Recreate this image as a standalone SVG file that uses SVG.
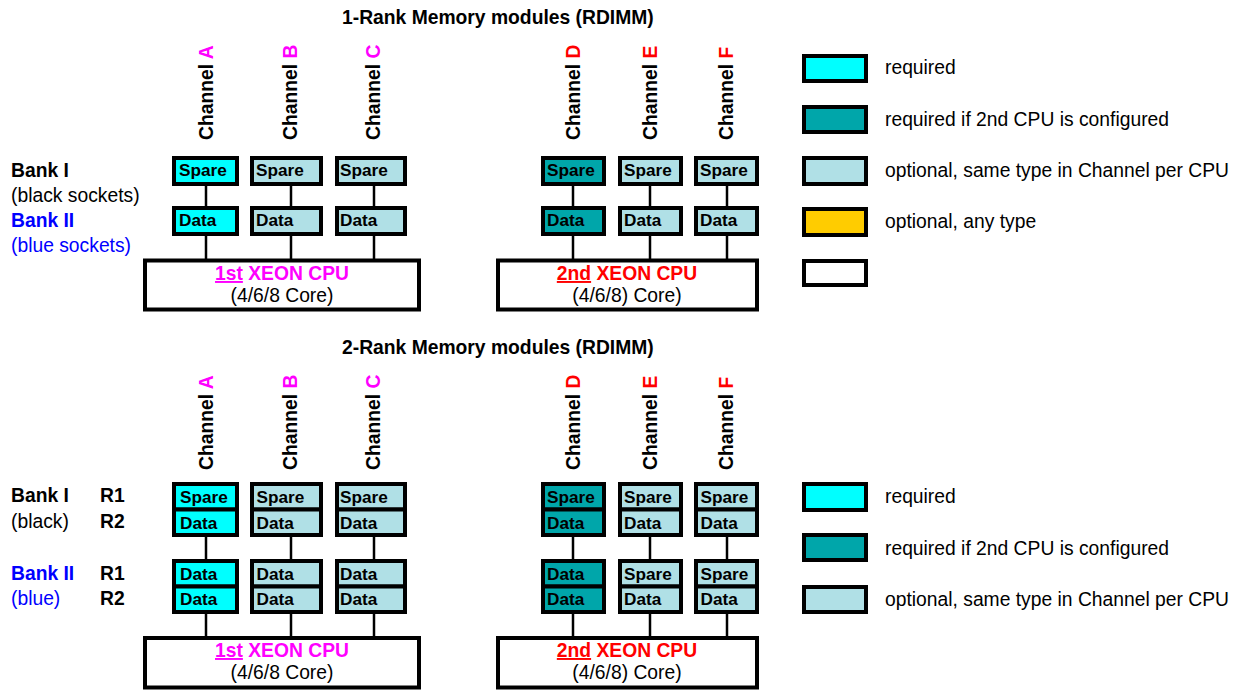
<svg xmlns="http://www.w3.org/2000/svg" width="1246" height="691" viewBox="0 0 1246 691">
<style>
text{font-family:"Liberation Sans",Arial,sans-serif;font-size:19.3px;fill:#000}
.b{font-weight:bold}
.ml{font-size:17.2px;font-weight:bold}
.m{stroke:#000;stroke-width:4}
.cy{fill:#00FFFF}.tl{fill:#00A6AA}.lb{fill:#B0E0E6}.or{fill:#FFCC00}.wh{fill:#FFFFFF}
.cn line{stroke:#000;stroke-width:2.5}
.mg{fill:#FF00FF}.rd{fill:#FF0000}.bl{fill:#0000FF}
.u{text-decoration:underline}
.mid{text-anchor:middle}
</style>
<rect width="1246" height="691" fill="#fff"/>

<g id="connectors" class="cn">
<line x1="206" y1="186" x2="206" y2="206"/><line x1="206" y1="236" x2="206" y2="259"/>
<line x1="291" y1="186" x2="291" y2="206"/><line x1="291" y1="236" x2="291" y2="259"/>
<line x1="374" y1="186" x2="374" y2="206"/><line x1="374" y1="236" x2="374" y2="259"/>
<line x1="573" y1="186" x2="573" y2="206"/><line x1="573" y1="236" x2="573" y2="259"/>
<line x1="650" y1="186" x2="650" y2="206"/><line x1="650" y1="236" x2="650" y2="259"/>
<line x1="727" y1="186" x2="727" y2="206"/><line x1="727" y1="236" x2="727" y2="259"/>
<line x1="206" y1="537" x2="206" y2="559"/><line x1="206" y1="614" x2="206" y2="636"/>
<line x1="291" y1="537" x2="291" y2="559"/><line x1="291" y1="614" x2="291" y2="636"/>
<line x1="374" y1="537" x2="374" y2="559"/><line x1="374" y1="614" x2="374" y2="636"/>
<line x1="573" y1="537" x2="573" y2="559"/><line x1="573" y1="614" x2="573" y2="636"/>
<line x1="650" y1="537" x2="650" y2="559"/><line x1="650" y1="614" x2="650" y2="636"/>
<line x1="727" y1="537" x2="727" y2="559"/><line x1="727" y1="614" x2="727" y2="636"/>
</g>

<!-- Titles -->
<g id="title1"><text class="b" x="342" y="24">1-Rank Memory modules (RDIMM)</text></g>
<g id="title2"><text class="b" x="342" y="354">2-Rank Memory modules (RDIMM)</text></g>

<!-- Channel labels top -->
<g id="chlabels1" class="b">
<text class="b" transform="translate(213,140) rotate(-90)">Channel <tspan class="mg">A</tspan></text>
<text class="b" transform="translate(296.5,140) rotate(-90)">Channel <tspan class="mg">B</tspan></text>
<text class="b" transform="translate(380,140) rotate(-90)">Channel <tspan class="mg">C</tspan></text>
<text class="b" transform="translate(580,140) rotate(-90)">Channel <tspan class="rd">D</tspan></text>
<text class="b" transform="translate(656.5,140) rotate(-90)">Channel <tspan class="rd">E</tspan></text>
<text class="b" transform="translate(733,140) rotate(-90)">Channel <tspan class="rd">F</tspan></text>
</g>
<g id="chlabels2">
<text class="b" transform="translate(213,470) rotate(-90)">Channel <tspan class="mg">A</tspan></text>
<text class="b" transform="translate(296.5,470) rotate(-90)">Channel <tspan class="mg">B</tspan></text>
<text class="b" transform="translate(380,470) rotate(-90)">Channel <tspan class="mg">C</tspan></text>
<text class="b" transform="translate(580,470) rotate(-90)">Channel <tspan class="rd">D</tspan></text>
<text class="b" transform="translate(656.5,470) rotate(-90)">Channel <tspan class="rd">E</tspan></text>
<text class="b" transform="translate(733,470) rotate(-90)">Channel <tspan class="rd">F</tspan></text>
</g>

<!-- Bank labels top -->
<g id="banks1">
<text class="b" x="11" y="177">Bank I</text>
<text x="11" y="202">(black sockets)</text>
<text class="b bl" x="11" y="227">Bank II</text>
<text class="bl" x="11" y="252">(blue sockets)</text>
</g>
<g id="banks2">
<text class="b" x="11" y="502">Bank I</text>
<text x="11" y="528">(black)</text>
<text class="b bl" x="11" y="580">Bank II</text>
<text class="bl" x="11" y="605">(blue)</text>
<text class="b" x="100" y="502">R1</text>
<text class="b" x="100" y="528">R2</text>
<text class="b" x="100" y="580">R1</text>
<text class="b" x="100" y="605">R2</text>
</g>

<!-- Top section modules -->
<g id="mod1A">
<rect class="m cy" x="174" y="158" width="63" height="26"/><text class="ml" x="179" y="176">Spare</text>
<rect class="m cy" x="174" y="208" width="63" height="26"/><text class="ml" x="179" y="226">Data</text>
</g>
<g id="mod1B">
<rect class="m lb" x="252" y="158" width="69" height="26"/><text class="ml" x="256" y="176">Spare</text>
<rect class="m lb" x="252" y="208" width="69" height="26"/><text class="ml" x="256" y="226">Data</text>
</g>
<g id="mod1C">
<rect class="m lb" x="337" y="158" width="68" height="26"/><text class="ml" x="340" y="176">Spare</text>
<rect class="m lb" x="337" y="208" width="68" height="26"/><text class="ml" x="340" y="226">Data</text>
</g>
<g id="mod1D">
<rect class="m tl" x="543" y="158" width="61" height="26"/><text class="ml" x="547" y="176">Spare</text>
<rect class="m tl" x="543" y="208" width="61" height="26"/><text class="ml" x="547" y="226">Data</text>
</g>
<g id="mod1E">
<rect class="m lb" x="620" y="158" width="61" height="26"/><text class="ml" x="624" y="176">Spare</text>
<rect class="m lb" x="620" y="208" width="61" height="26"/><text class="ml" x="624" y="226">Data</text>
</g>
<g id="mod1F">
<rect class="m lb" x="696" y="158" width="61" height="26"/><text class="ml" x="700" y="176">Spare</text>
<rect class="m lb" x="696" y="208" width="61" height="26"/><text class="ml" x="700" y="226">Data</text>
</g>

<!-- Top CPUs -->
<g id="cpu1a">
<rect class="m wh" x="145" y="260.5" width="274" height="49"/>
<text class="b mid mg" x="282" y="280"><tspan class="u">1st</tspan> XEON CPU</text>
<text class="mid" x="282" y="302">(4/6/8 Core)</text>
</g>
<g id="cpu2a">
<rect class="m wh" x="498" y="260.5" width="259" height="49"/>
<text class="b mid rd" x="627" y="280"><tspan class="u">2nd</tspan> XEON CPU</text>
<text class="mid" x="627" y="302">(4/6/8) Core)</text>
</g>

<!-- Bottom section modules -->
<g id="mod2A">
<rect class="m cy" x="174" y="484" width="63" height="25.5"/><text class="ml" x="180" y="503">Spare</text>
<rect class="m cy" x="174" y="509.5" width="63" height="25.5"/><text class="ml" x="180" y="529">Data</text>
<rect class="m cy" x="174" y="561" width="63" height="25.5"/><text class="ml" x="180" y="580">Data</text>
<rect class="m cy" x="174" y="586.5" width="63" height="25.5"/><text class="ml" x="180" y="605">Data</text>
</g>
<g id="mod2B">
<rect class="m lb" x="252" y="484" width="69" height="25.5"/><text class="ml" x="256.5" y="503">Spare</text>
<rect class="m lb" x="252" y="509.5" width="69" height="25.5"/><text class="ml" x="256.5" y="529">Data</text>
<rect class="m lb" x="252" y="561" width="69" height="25.5"/><text class="ml" x="256.5" y="580">Data</text>
<rect class="m lb" x="252" y="586.5" width="69" height="25.5"/><text class="ml" x="256.5" y="605">Data</text>
</g>
<g id="mod2C">
<rect class="m lb" x="337" y="484" width="68" height="25.5"/><text class="ml" x="340" y="503">Spare</text>
<rect class="m lb" x="337" y="509.5" width="68" height="25.5"/><text class="ml" x="340" y="529">Data</text>
<rect class="m lb" x="337" y="561" width="68" height="25.5"/><text class="ml" x="340" y="580">Data</text>
<rect class="m lb" x="337" y="586.5" width="68" height="25.5"/><text class="ml" x="340" y="605">Data</text>
</g>
<g id="mod2D">
<rect class="m tl" x="543" y="484" width="61" height="25.5"/><text class="ml" x="547" y="503">Spare</text>
<rect class="m tl" x="543" y="509.5" width="61" height="25.5"/><text class="ml" x="547" y="529">Data</text>
<rect class="m tl" x="543" y="561" width="61" height="25.5"/><text class="ml" x="547" y="580">Data</text>
<rect class="m tl" x="543" y="586.5" width="61" height="25.5"/><text class="ml" x="547" y="605">Data</text>
</g>
<g id="mod2E">
<rect class="m lb" x="620" y="484" width="61" height="25.5"/><text class="ml" x="624" y="503">Spare</text>
<rect class="m lb" x="620" y="509.5" width="61" height="25.5"/><text class="ml" x="624" y="529">Data</text>
<rect class="m lb" x="620" y="561" width="61" height="25.5"/><text class="ml" x="624" y="580">Spare</text>
<rect class="m lb" x="620" y="586.5" width="61" height="25.5"/><text class="ml" x="624" y="605">Data</text>
</g>
<g id="mod2F">
<rect class="m lb" x="696" y="484" width="61" height="25.5"/><text class="ml" x="700.5" y="503">Spare</text>
<rect class="m lb" x="696" y="509.5" width="61" height="25.5"/><text class="ml" x="700.5" y="529">Data</text>
<rect class="m lb" x="696" y="561" width="61" height="25.5"/><text class="ml" x="700.5" y="580">Spare</text>
<rect class="m lb" x="696" y="586.5" width="61" height="25.5"/><text class="ml" x="700.5" y="605">Data</text>
</g>

<!-- Bottom CPUs -->
<g id="cpu1b">
<rect class="m wh" x="145" y="638" width="274" height="49.5"/>
<text class="b mid mg" x="282" y="657"><tspan class="u">1st</tspan> XEON CPU</text>
<text class="mid" x="282" y="679">(4/6/8 Core)</text>
</g>
<g id="cpu2b">
<rect class="m wh" x="498" y="638" width="259" height="49.5"/>
<text class="b mid rd" x="627" y="657"><tspan class="u">2nd</tspan> XEON CPU</text>
<text class="mid" x="627" y="679">(4/6/8) Core)</text>
</g>

<!-- Legend top -->
<g id="legend1">
<rect class="m cy" x="804" y="56" width="62" height="25"/><text x="885" y="74">required</text>
<rect class="m tl" x="804" y="107" width="62" height="25"/><text x="885" y="126">required if 2nd CPU is configured</text>
<rect class="m lb" x="804" y="158" width="62" height="26"/><text x="885" y="177">optional, same type in Channel per CPU</text>
<rect class="m or" x="804" y="209" width="62" height="26"/><text x="885" y="228">optional, any type</text>
<rect class="m wh" x="804" y="261" width="62" height="24"/>
</g>
<!-- Legend bottom -->
<g id="legend2">
<rect class="m cy" x="804" y="484" width="62" height="26"/><text x="885" y="503">required</text>
<rect class="m tl" x="804" y="535" width="62" height="25"/><text x="885" y="555">required if 2nd CPU is configured</text>
<rect class="m lb" x="804" y="587" width="62" height="25"/><text x="885" y="606">optional, same type in Channel per CPU</text>
</g>
</svg>
